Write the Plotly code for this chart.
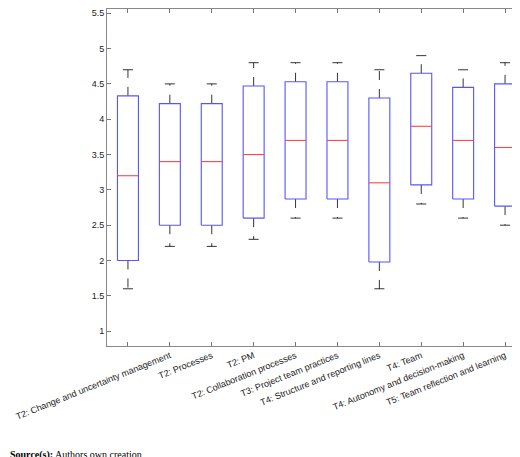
import plotly.graph_objects as go

labels = ["T1: PM practices and environment", "T2: Change and uncertainty management", "T2: Processes", "T2: PM",
          "T2: Collaboration processes", "T3: Project team practices", "T4: Structure and reporting lines",
          "T4: Team", "T4: Autonomy and decision-making", "T5: Team reflection and learning"]
q3 = [4.33, 4.22, 4.22, 4.47, 4.53, 4.53, 4.30, 4.65, 4.45, 4.50]
median = [3.2, 3.4, 3.4, 3.5, 3.7, 3.7, 3.1, 3.9, 3.7, 3.6]
q1 = [2.0, 2.5, 2.5, 2.6, 2.87, 2.87, 1.98, 3.07, 2.87, 2.77]
upper = [4.7, 4.5, 4.5, 4.8, 4.8, 4.8, 4.7, 4.9, 4.7, 4.8]
lower = [1.6, 2.2, 2.2, 2.3, 2.6, 2.6, 1.6, 2.8, 2.6, 2.5]

pos = list(range(1, len(labels) + 1))
hw, cw = 0.25, 0.12

wx, wy, cx, cy, bx, by, mx, my = [], [], [], [], [], [], [], []
for p, a, b, m, lo, hi in zip(pos, q1, q3, median, lower, upper):
    wx += [p, p, None, p, p, None]; wy += [b, hi, None, a, lo, None]
    cx += [p - cw, p + cw, None, p - cw, p + cw, None]; cy += [hi, hi, None, lo, lo, None]
    bx += [p - hw, p + hw, p + hw, p - hw, p - hw, None]; by += [a, a, b, b, a, None]
    mx += [p - hw, p + hw, None]; my += [m, m, None]

fig = go.Figure()
fig.add_trace(go.Scatter(x=wx, y=wy, mode="lines", line=dict(color="black", width=0.8, dash="dash")))
fig.add_trace(go.Scatter(x=cx, y=cy, mode="lines", line=dict(color="black", width=0.8)))
fig.add_trace(go.Scatter(x=bx, y=by, mode="lines", line=dict(color="#5555ff", width=1.1)))
fig.add_trace(go.Scatter(x=mx, y=my, mode="lines", line=dict(color="#ff4444", width=1.1)))

fig.update_layout(
    width=520, height=457, margin=dict(l=99, r=2, t=1, b=119),
    paper_bgcolor="white", plot_bgcolor="white", showlegend=False,
    font=dict(family="Liberation Sans, Arial", size=9, color="#222"),
    xaxis=dict(range=[0.5, 10.5], tickvals=pos, ticktext=labels, tickangle=-22, automargin=False,
               ticks="inside", ticklen=4, tickcolor="#777", mirror="ticks", showline=True,
               linecolor="#888", showgrid=False, zeroline=False, tickfont=dict(size=9)),
    yaxis=dict(range=[0.79, 5.56], tickvals=[1, 1.5, 2, 2.5, 3, 3.5, 4, 4.5, 5, 5.5], automargin=False,
               ticktext=["1", "1.5", "2", "2.5", "3", "3.5", "4", "4.5", "5", "5.5"],
               ticks="inside", ticklen=4, tickcolor="#777", mirror="ticks", showline=True,
               linecolor="#888", showgrid=False, zeroline=False),
    annotations=[dict(x=-99/419, y=-(447-338)/337, xref="paper", yref="paper", yanchor="middle", xanchor="left",
                      text="<b>Source(s):</b> Authors own creation", showarrow=False,
                      font=dict(family="Liberation Serif, Times New Roman", size=10, color="black"))],
)
fig.write_html("out.html")
